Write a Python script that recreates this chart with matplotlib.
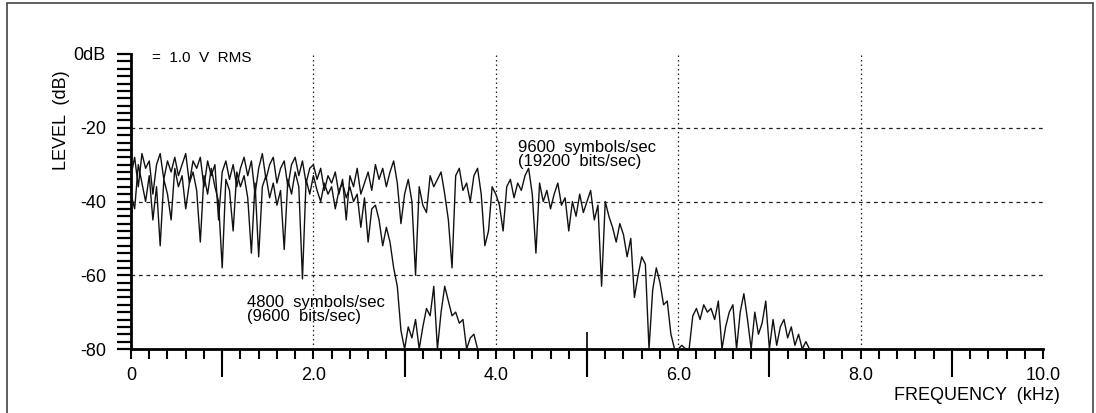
import matplotlib
matplotlib.use("Agg")
import matplotlib.pyplot as plt
import numpy as np
from matplotlib.patches import Rectangle
from matplotlib.ticker import MultipleLocator, NullLocator

plt.rcParams["font.family"] = ["Liberation Sans", "DejaVu Sans"]

# spectrum samples, 0.04 kHz apart, starting at 0 kHz
STEP = 0.04

# 9600 symbols/sec (19200 bits/sec)
level_9600 = [
    -33, -28, -36, -27, -31, -29, -38, -30, -27, -34, -29, -32, -28, -33, -30, -27, -35, -29, -31, -28, -36, -29, -33, -30, -45,
    -32, -29, -34, -30, -36, -31, -28, -33, -29, -38, -31, -27, -34, -30, -28, -35, -31, -29, -36, -30, -28, -33, -29, -35, -31,
    -30, -34, -31, -37, -33, -35, -32, -38, -34, -45, -33, -36, -31, -38, -35, -32, -37, -30, -34, -31, -36, -32, -29, -35, -46,
    -38, -34, -40, -60, -36, -41, -43, -33, -36, -34, -32, -38, -45, -58, -33, -31, -37, -35, -40, -33, -31, -38, -52, -48, -36,
    -38, -41, -48, -36, -34, -39, -35, -37, -33, -31, -38, -54, -35, -40, -37, -42, -38, -35, -41, -39, -48, -40, -44, -38, -43,
    -40, -37, -45, -41, -63, -40, -44, -47, -51, -46, -49, -55, -50, -66, -60, -55, -57, -80, -64, -58, -62, -68, -67, -76, -80,
    -80, -79, -80, -80, -71, -69, -72, -68, -70, -69, -72, -67, -80, -74, -70, -68, -80, -70, -65, -72, -80, -70, -76, -73, -67,
    -80, -72, -79, -74, -72, -77, -74, -79, -76, -80, -78, -80, -80,
]

# 4800 symbols/sec (9600 bits/sec)
level_4800 = [
    -38, -42, -30, -35, -40, -33, -45, -36, -52, -34, -38, -45, -31, -36, -33, -42, -35, -32, -37, -51, -33, -38, -31, -36, -40,
    -58, -34, -37, -48, -32, -36, -33, -39, -54, -35, -55, -36, -33, -39, -35, -41, -37, -53, -34, -38, -32, -36, -61, -34, -38,
    -33, -37, -40, -35, -38, -36, -42, -37, -35, -39, -36, -40, -38, -47, -39, -51, -42, -41, -45, -52, -47, -51, -58, -63, -75,
    -80, -74, -77, -72, -80, -74, -69, -71, -63, -80, -70, -63, -67, -71, -70, -73, -72, -80, -77, -76, -80,
]

freq_9600 = STEP * np.arange(len(level_9600))
freq_4800 = STEP * np.arange(len(level_4800))

x_labels = ["0", "2.0", "4.0", "6.0", "8.0", "10.0"]
x_label_pos = [0, 2, 4, 6, 8, 10]
long_ticks = [1, 3, 5, 7, 9]
y_ticks = [-80, -60, -40, -20, 0]
y_labels = ["-80", "-60", "-40", "-20", "0dB"]
h_grid = [-20, -40, -60]
v_grid = [2, 4, 6, 8]

fig = plt.figure(figsize=(10.96, 4.13), dpi=100)
ax = fig.add_axes([131 / 1096, 1 - 349 / 413, 912 / 1096, 295 / 413])

for g in h_grid:
    ax.axhline(g, color="#222222", lw=0.9, ls=(0, (3, 3)), zorder=1)
for g in v_grid:
    ax.axvline(g, color="#222222", lw=0.9, ls=(0, (1.2, 2.4)), zorder=1)

ax.plot(freq_9600, level_9600, color="#111111", lw=1.0, zorder=3)
ax.plot(freq_4800, level_4800, color="#111111", lw=1.0, zorder=3)

ax.set_xlim(0, 10)
ax.set_ylim(-80, 0)
ax.spines["top"].set_visible(False)
ax.spines["right"].set_visible(False)
ax.spines["left"].set_linewidth(2)
ax.spines["bottom"].set_linewidth(2)

ax.set_xticks(x_label_pos)
ax.set_xticklabels(x_labels, fontsize=13)
ax.set_yticks(y_ticks)
ax.set_yticklabels(y_labels, fontsize=13)
ax.xaxis.set_minor_locator(MultipleLocator(0.2))
ax.yaxis.set_minor_locator(MultipleLocator(2))
ax.tick_params(axis="x", which="both", direction="out", length=7, width=1.5, pad=6)
ax.tick_params(axis="y", which="both", direction="out", length=10, width=1.6, pad=8)

# long unlabelled ticks at the odd kHz marks
sec = ax.secondary_xaxis("bottom")
sec.set_xticks(long_ticks)
sec.xaxis.set_minor_locator(NullLocator())
sec.tick_params(length=20, width=1.5, direction="out", labelbottom=False)
sec.spines["bottom"].set_visible(False)

sec2 = ax.secondary_xaxis("bottom")
sec2.set_xticks([5])
sec2.xaxis.set_minor_locator(NullLocator())
sec2.tick_params(length=12, width=1.2, direction="in", labelbottom=False)
sec2.spines["bottom"].set_visible(False)

ax.text(0.23, -1.1, "=  1.0  V  RMS", fontsize=11, ha="left", va="center")
ax.text(4.24, -27.3, "9600  symbols/sec\n(19200  bits/sec)", fontsize=12,
        ha="left", va="center", linespacing=0.95)
ax.text(1.27, -69.3, "4800  symbols/sec\n(9600  bits/sec)", fontsize=12,
        ha="left", va="center", linespacing=0.95)

fig.text(62 / 1096, 1 - 120 / 413, "LEVEL  (dB)", rotation=90, fontsize=13,
         ha="center", va="center")
fig.text(1060 / 1096, 1 - 395 / 413, "FREQUENCY  (kHz)", fontsize=13,
         ha="right", va="center")

fig.patches.append(Rectangle((7 / 1096, -0.02), 1086 / 1096, 1.0127,
                             transform=fig.transFigure, fill=False,
                             edgecolor="#444444", lw=1.2))

fig.savefig("out.png", dpi=100)
